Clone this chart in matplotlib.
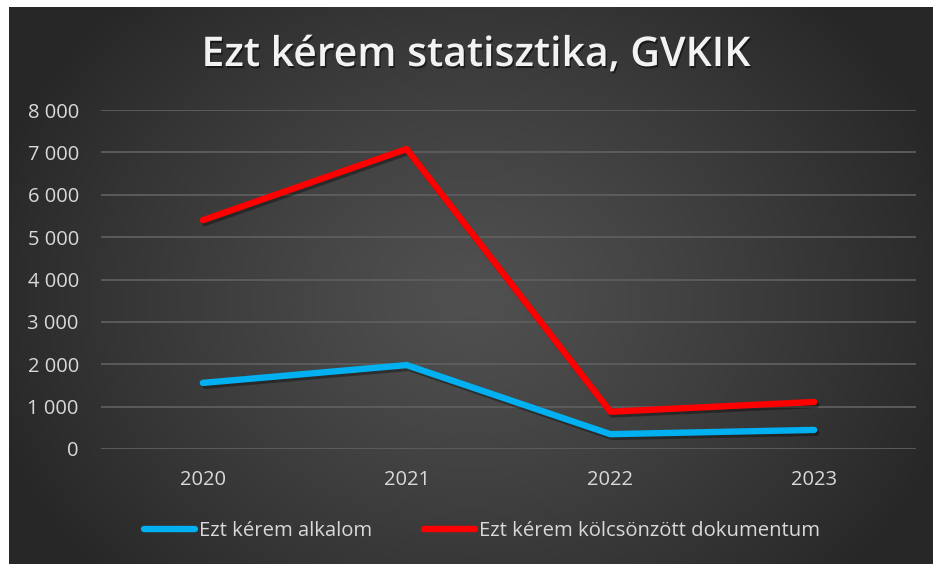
import numpy as np
import matplotlib
matplotlib.use("Agg")
import matplotlib.pyplot as plt
import matplotlib.patheffects as pe

years = ["2020", "2021", "2022", "2023"]
alkalom = [1560, 1980, 350, 450]
dokumentum = [5400, 7080, 880, 1110]
yticks = [0, 1000, 2000, 3000, 4000, 5000, 6000, 7000, 8000]
ytick_labels = ["0", "1 000", "2 000", "3 000", "4 000", "5 000", "6 000", "7 000", "8 000"]

W, H = 935, 564
fig = plt.figure(figsize=(W / 100, H / 100), dpi=100)
fig.patch.set_facecolor("white")

# background with radial gradient
bg = fig.add_axes([9 / W, 0, (933 - 9) / W, (H - 7) / H])
bg.set_axis_off()
ny, nx = 300, 500
yy, xx = np.mgrid[0:ny, 0:nx]
cx, cy = nx * 0.5, ny * 0.52
r = np.sqrt(((xx - cx) / (nx * 0.55)) ** 2 + ((yy - cy) / (ny * 0.75)) ** 2)
r = np.clip(r, 0, 1)
inner, outer = 0x50 / 255, 0x27 / 255
val = inner + (outer - inner) * r ** 1.2
img = np.dstack([val, val, val])
bg.imshow(img, aspect="auto", extent=[0, 1, 0, 1], interpolation="bilinear")
bg.set_xlim(0, 1)
bg.set_ylim(0, 1)

ax = fig.add_axes([101 / W, 1 - 449 / H, (916 - 101) / W, (449 - 110) / H])
ax.set_facecolor("none")
for s in ax.spines.values():
    s.set_visible(False)

x = np.arange(len(years))
shadow = [pe.SimpleLineShadow(offset=(1.5, -2), shadow_color="black", alpha=0.35), pe.Normal()]
ax.plot(x, alkalom, color="#00B0F0", lw=4.6, solid_capstyle="round", solid_joinstyle="round",
        label="Ezt kérem alkalom", path_effects=shadow, zorder=3)
ax.plot(x, dokumentum, color="#FF0000", lw=4.6, solid_capstyle="round", solid_joinstyle="round",
        label="Ezt kérem kölcsönzött dokumentum", path_effects=shadow, zorder=3)

ax.set_xlim(-0.5, len(years) - 0.5)
ax.set_ylim(0, 8000)
ax.set_yticks(yticks)
ax.set_yticklabels(ytick_labels)
ax.set_xticks(x)
ax.set_xticklabels(years)
ax.yaxis.grid(True, color="#5e5e5e", lw=1.3)
ax.set_axisbelow(True)
ax.tick_params(axis="both", length=0, colors="#d9d9d9", labelsize=14.5)
ax.tick_params(axis="y", pad=16)
ax.tick_params(axis="x", pad=15)
for lbl in ax.get_xticklabels() + ax.get_yticklabels():
    lbl.set_fontfamily("Open Sans")
    lbl.set_color("#d9d9d9")

fig.text(476 / W, 1 - 55 / H, "Ezt kérem statisztika, GVKIK", ha="center", va="center",
         fontsize=29.5, fontweight="semibold", color="#f2f2f2", family="Open Sans",
         path_effects=[pe.withSimplePatchShadow(offset=(1, -1.5), shadow_rgbFace="black", alpha=0.5)])

leg = fig.legend(loc="center", bbox_to_anchor=(482 / W, 1 - 531 / H), ncol=2, frameon=False,
                 prop={"family": "Open Sans", "size": 14.6}, handlelength=2.5, handletextpad=0.2,
                 columnspacing=2.6)
for t in leg.get_texts():
    t.set_color("#d9d9d9")
for h in leg.get_lines():
    h.set_path_effects([])

fig.savefig("out.png", dpi=100, facecolor="white")
